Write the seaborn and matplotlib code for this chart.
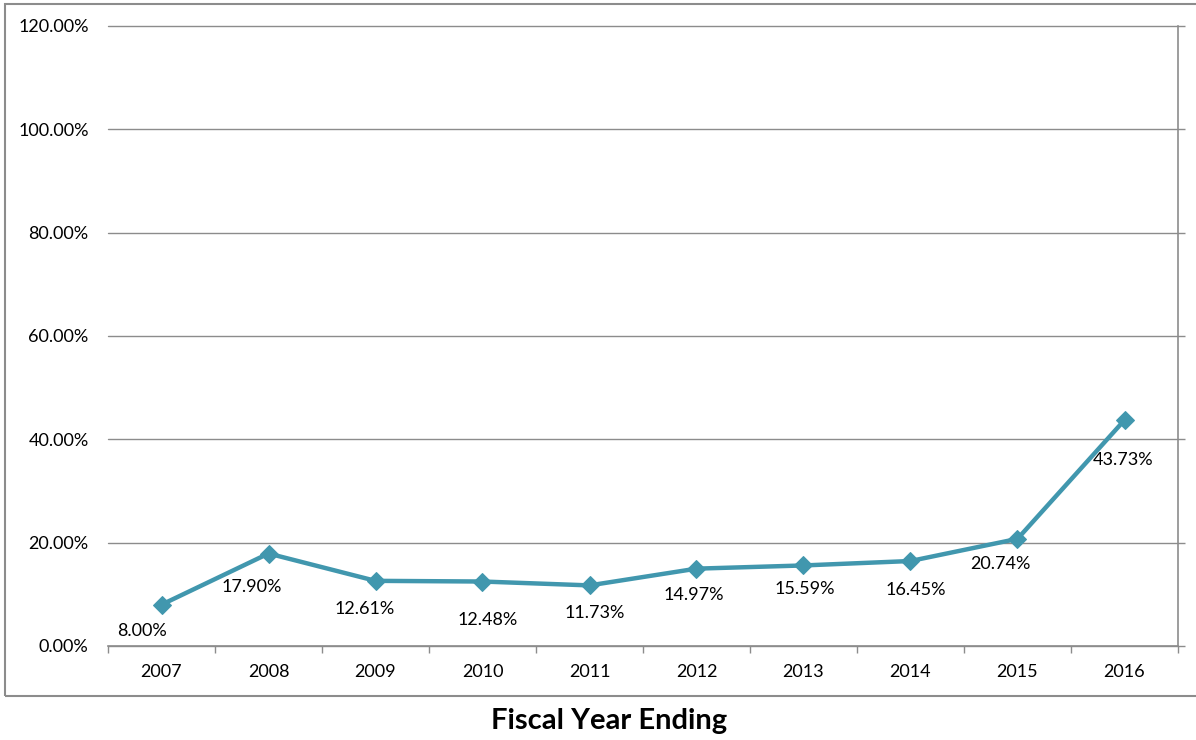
import matplotlib
matplotlib.use("Agg")
import matplotlib.pyplot as plt
from matplotlib.patches import Rectangle
from matplotlib.ticker import FixedLocator, PercentFormatter
import seaborn as sns
import pandas as pd
import numpy as np

years = ["2007", "2008", "2009", "2010", "2011", "2012", "2013", "2014", "2015", "2016"]
rates = [8.00, 17.90, 12.61, 12.48, 11.73, 14.97, 15.59, 16.45, 20.74, 43.73]
y_ticks = [0, 20, 40, 60, 80, 100, 120]

# label offsets in points (dx, dy) relative to each marker
label_offsets = [(-14, -19), (-12, -24), (-8, -20), (4, -28), (4, -20),
                 (-2, -19), (1, -17), (4, -21), (-12, -18), (-1, -29)]

sns.set_theme(style="white")
plt.rcParams["font.family"] = ["Lato", "DejaVu Sans"]

line_color = "#4197AE"
grid_color = "#8C8C8C"

df = pd.DataFrame({"year": years, "rate": rates})
df["pos"] = np.arange(len(years))

fig = plt.figure(figsize=(11.96, 7.4), dpi=100)
ax = fig.add_axes([108 / 1196, 1 - 646 / 740, (1178 - 108) / 1196, (646 - 26) / 740])

sns.lineplot(data=df, x="pos", y="rate", ax=ax, color=line_color, linewidth=3.2,
             marker="D", markersize=9, markeredgecolor=line_color, zorder=3)

ax.set_xlim(-0.5, len(years) - 0.5)
ax.set_ylim(0, 120)
ax.yaxis.set_major_locator(FixedLocator(y_ticks))
ax.yaxis.set_major_formatter(PercentFormatter(decimals=2))
ax.set_xticks(df["pos"])
ax.set_xticklabels(years)
ax.xaxis.set_minor_locator(FixedLocator(np.arange(-0.5, len(years), 1.0)))

ax.grid(axis="y", color=grid_color, linewidth=1.0)
ax.set_axisbelow(True)
for g in ax.get_ygridlines():
    g.set_clip_on(False)

for side in ["left", "top"]:
    ax.spines[side].set_visible(False)
for side in ["bottom", "right"]:
    ax.spines[side].set_visible(True)
    ax.spines[side].set_color(grid_color)
    ax.spines[side].set_linewidth(1.2)

ax.tick_params(axis="x", which="major", length=0, pad=13, labelsize=13, labelcolor="black")
ax.tick_params(axis="x", which="minor", length=5, width=1, color=grid_color, direction="out", bottom=True)
ax.tick_params(axis="y", which="major", left=False, right=True, length=5, width=1,
               color=grid_color, direction="out", labelsize=13, labelcolor="black", pad=9)
ax.set_xlabel("")
ax.set_ylabel("")

for (x, y, (dx, dy)) in zip(df["pos"], df["rate"], label_offsets):
    ax.annotate(f"{y:.2f}%", (x, y), xytext=(dx, dy), textcoords="offset points",
                ha="center", va="center", fontsize=13, color="black")

# chart frame
fig.patches.append(Rectangle((5 / 1196, 1 - 696 / 740), 1.2, (696 - 4) / 740,
                             transform=fig.transFigure, fill=False,
                             edgecolor="#8C8C8C", linewidth=1.5, clip_on=False))

fig.text(609 / 1196, 1 - 721 / 740, "Fiscal Year Ending", ha="center", va="center",
         fontsize=21, fontweight="bold", color="black")

fig.savefig("out.png", dpi=100)
